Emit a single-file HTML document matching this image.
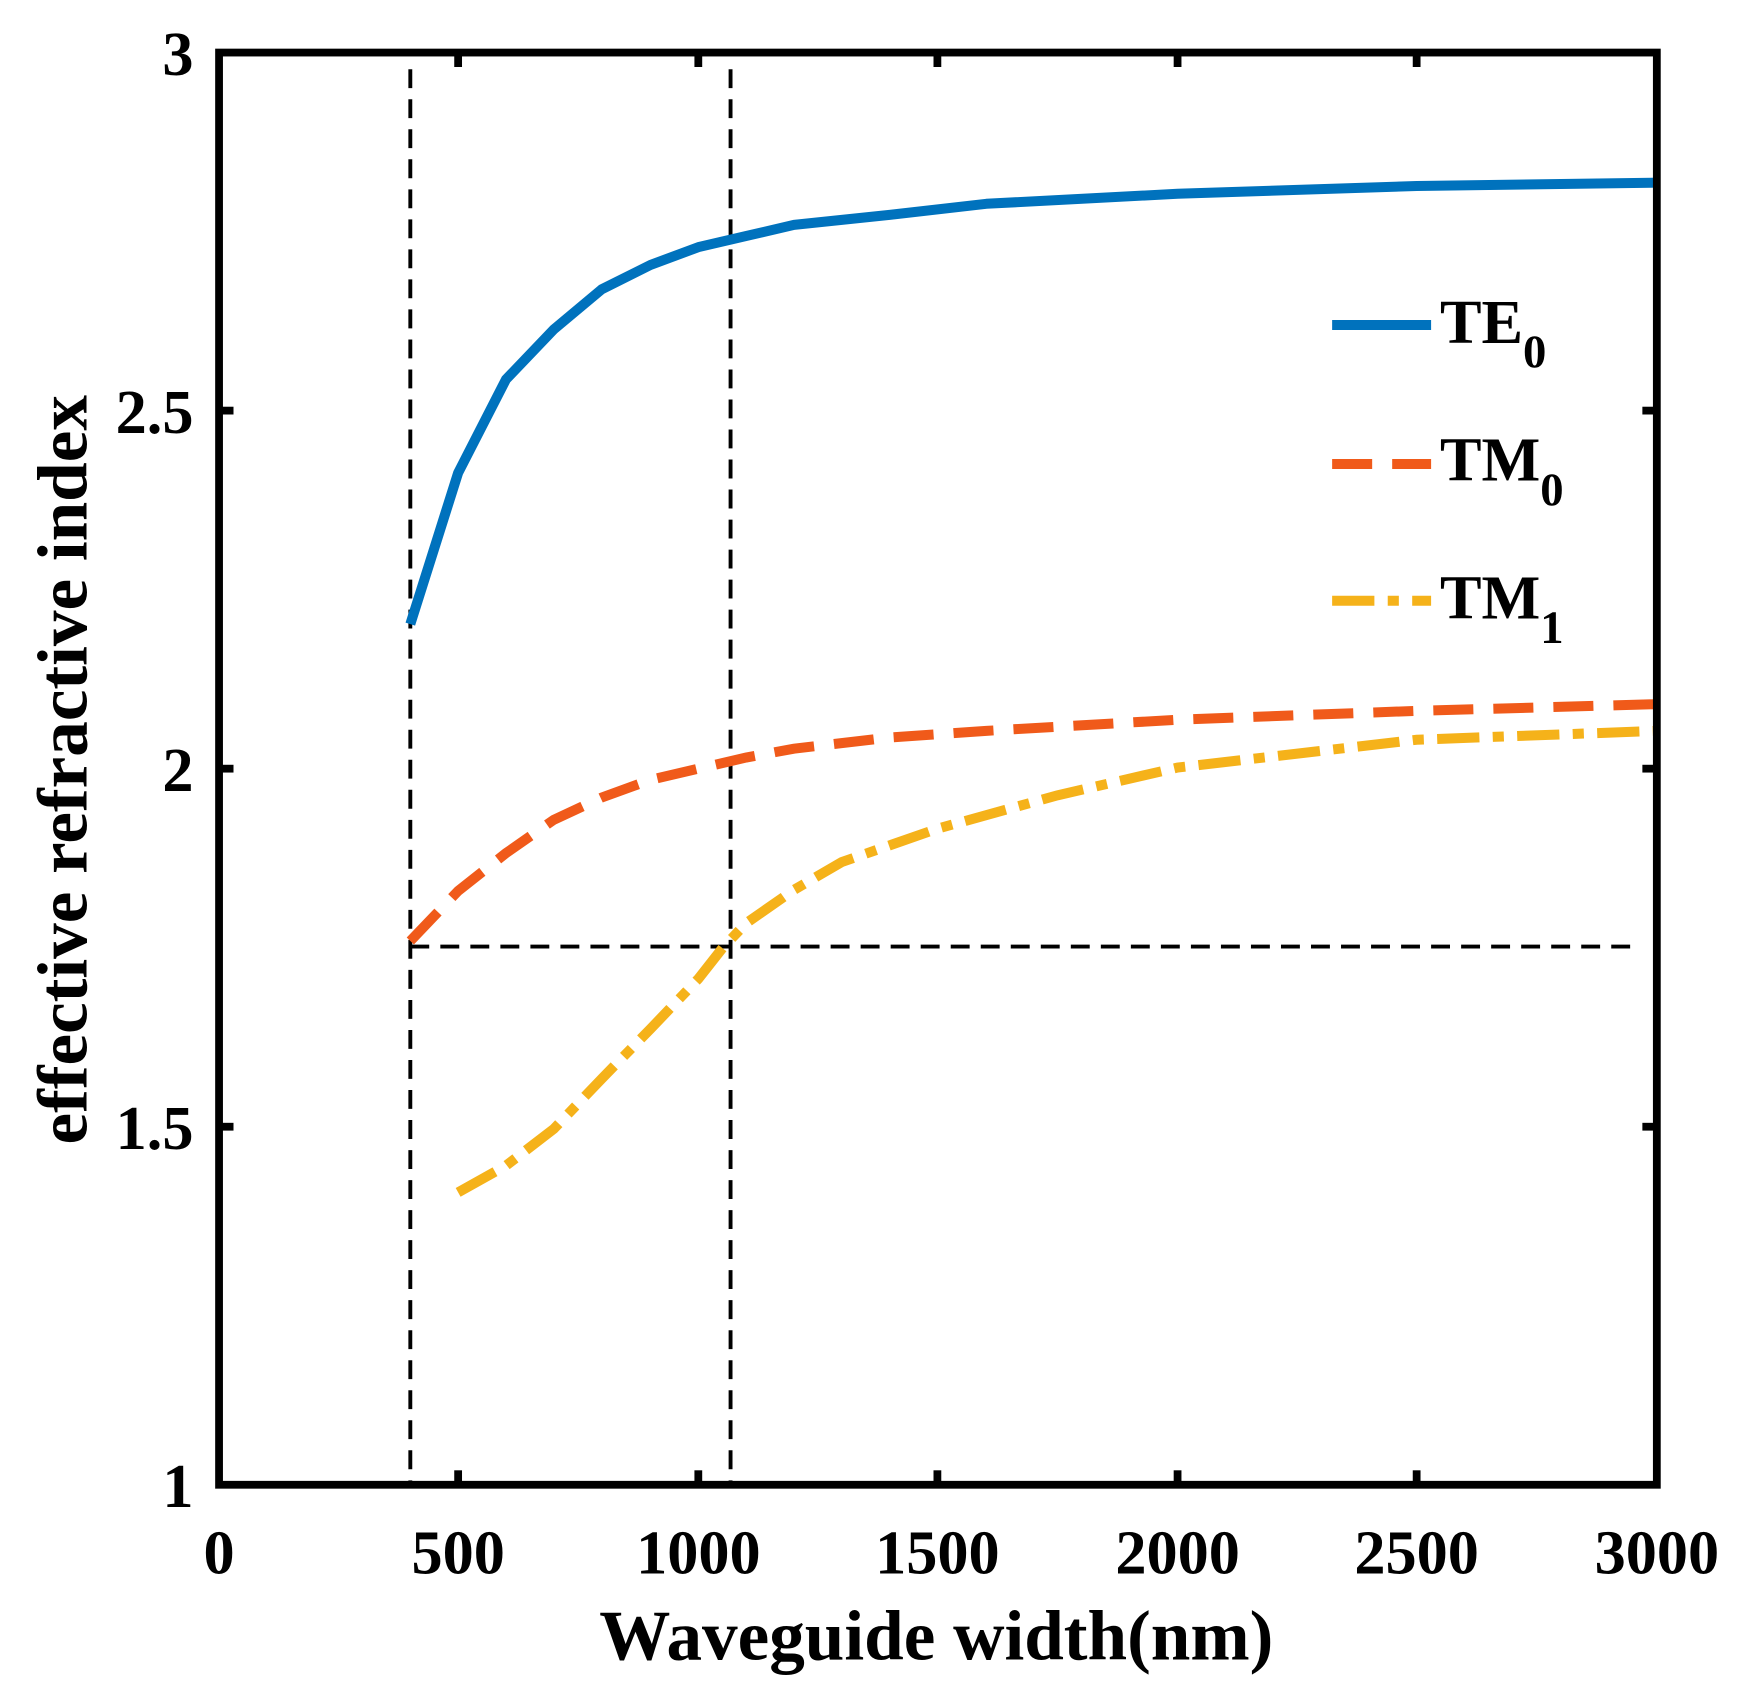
<!DOCTYPE html>
<html><head><style>html,body{margin:0;padding:0;background:#fff}</style></head><body>
<svg width="1738" height="1693" viewBox="0 0 1563 1522" xmlns="http://www.w3.org/2000/svg" font-family="Liberation Serif, serif" font-weight="bold">
<rect width="1563" height="1522" fill="#fff"/>
<g stroke="#000" stroke-width="3.5" stroke-dasharray="17,10" fill="none">
<line x1="369" y1="62" x2="369" y2="1333"/>
<line x1="657" y1="62" x2="657" y2="1333"/>
<line x1="369" y1="851" x2="1475" y2="851"/>
</g>
<polyline fill="none" stroke="#0072BD" stroke-width="9" stroke-linejoin="round" points="369,561 412,425 455,341 498,296 541,260 585,238 628,222 671,212 714,202 800,193 887,183 1059,174 1274,167 1490,164"/>
<polyline fill="none" stroke="#F05A1A" stroke-width="9" stroke-dasharray="36,18" points="369,846 412,801 455,767 498,737 541,717 585,701 628,691 671,681 714,673 800,663 887,657 1059,647 1274,639 1490,633"/>
<polyline fill="none" stroke="#F5B21A" stroke-width="9" stroke-dasharray="38,12,10,12" points="412,1072 455,1048 498,1015 541,970 585,925 628,880 650,852 671,830 714,800 757,775 843,745 951,715 1059,690 1274,665 1490,657"/>
<rect x="197" y="47" width="1293" height="1288" fill="none" stroke="#000" stroke-width="7"/>
<g stroke="#000" stroke-width="7">
<line x1="412" y1="1335" x2="412" y2="1322"/><line x1="628" y1="1335" x2="628" y2="1322"/><line x1="843" y1="1335" x2="843" y2="1322"/><line x1="1059" y1="1335" x2="1059" y2="1322"/><line x1="1274" y1="1335" x2="1274" y2="1322"/>
<line x1="412" y1="47" x2="412" y2="60"/><line x1="628" y1="47" x2="628" y2="60"/><line x1="843" y1="47" x2="843" y2="60"/><line x1="1059" y1="47" x2="1059" y2="60"/><line x1="1274" y1="47" x2="1274" y2="60"/>
<line x1="197" y1="369" x2="210" y2="369"/><line x1="197" y1="691" x2="210" y2="691"/><line x1="197" y1="1013" x2="210" y2="1013"/>
<line x1="1490" y1="369" x2="1477" y2="369"/><line x1="1490" y1="691" x2="1477" y2="691"/><line x1="1490" y1="1013" x2="1477" y2="1013"/>
</g>
<g font-size="56" text-anchor="middle">
<text x="197" y="1415">0</text><text x="412" y="1415">500</text><text x="628" y="1415">1000</text><text x="843" y="1415">1500</text><text x="1059" y="1415">2000</text><text x="1274" y="1415">2500</text><text x="1490" y="1415">3000</text>
</g>
<g font-size="56" text-anchor="end">
<text x="174" y="67">3</text><text x="174" y="389">2.5</text><text x="174" y="711">2</text><text x="174" y="1033">1.5</text><text x="174" y="1355">1</text>
</g>
<text x="842" y="1492" font-size="64" text-anchor="middle">Waveguide width(nm)</text>
<text transform="translate(78,692) rotate(-90)" font-size="64" text-anchor="middle">effective refractive index</text>
<line x1="1198" y1="292" x2="1287" y2="292" stroke="#0072BD" stroke-width="9"/>
<line x1="1198" y1="417" x2="1287" y2="417" stroke="#F05A1A" stroke-width="9" stroke-dasharray="36,18"/>
<line x1="1198" y1="540" x2="1287" y2="540" stroke="#F5B21A" stroke-width="9" stroke-dasharray="38,12,10,12"/>
<g font-size="56">
<text x="1295" y="308">TE<tspan font-size="42" dy="22">0</tspan></text>
<text x="1295" y="432">TM<tspan font-size="42" dy="22">0</tspan></text>
<text x="1295" y="556">TM<tspan font-size="42" dy="22">1</tspan></text>
</g>
</svg>
</body></html>
